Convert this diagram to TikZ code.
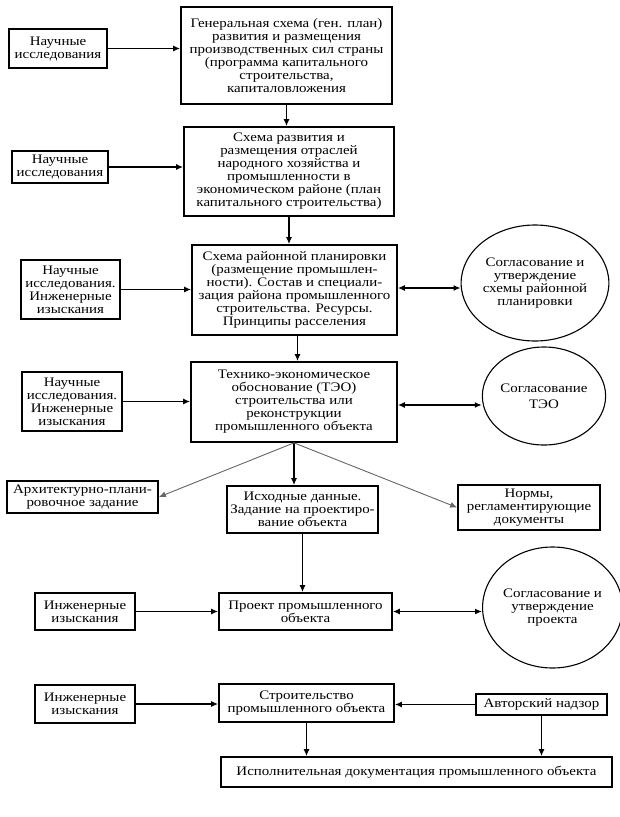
\documentclass[tikz,border=0pt]{standalone}
\usepackage{fontspec}
\setmainfont{Liberation Serif}[FakeStretch=1.15]
\usetikzlibrary{arrows.meta,shapes.geometric}
\tikzset{
  box/.style={draw, line width=1.7pt, rectangle, inner sep=0pt, align=center,
    font=\fontsize{13}{13}\selectfont},
  oval/.style={draw, line width=1.1pt, ellipse, inner sep=0pt, align=center,
    font=\fontsize{13}{13}\selectfont},
  arr/.style={line width=1.6pt, -{Latex[length=7pt,width=6pt]}},
  darr/.style={line width=1.6pt, {Latex[length=7pt,width=6pt]}-{Latex[length=7pt,width=6pt]}},
  garr/.style={line width=0.9pt, draw=black!60, -{Latex[length=7pt,width=6pt]}}
}
\begin{document}
\begin{tikzpicture}[x=1pt,y=-1pt]
\path[use as bounding box, fill=white] (0,0) rectangle (619,817);

\node[box, minimum width=98pt, minimum height=39pt] (lb1) at (58,48.5) {Научные\\исследования};
\node[box, minimum width=211pt, minimum height=97pt] (b1) at (286.5,55.5)
  {Генеральная схема (ген. план)\\развития и размещения\\производственных сил страны\\(программа капитального\\строительства,\\капиталовложения};

\node[box, minimum width=96pt, minimum height=32pt] (lb2) at (60,167) {Научные\\исследования};
\node[box, minimum width=210pt, minimum height=89pt] (b2) at (289,171.5)
  {Схема развития и\\размещения отраслей\\народного хозяйства и\\промышленности в\\экономическом районе (план\\капитального строительства)};

\node[box, minimum width=99pt, minimum height=59pt] (lb3) at (70.5,289.5) {Научные\\исследования.\\Инженерные\\изыскания};
\node[box, minimum width=205pt, minimum height=90pt] (b3) at (294.5,290)
  {Схема районной планировки\\(размещение промышлен-\\ности). Состав и специали-\\зация района промышленного\\строительства. Ресурсы.\\Принципы расселения};
\node[oval, minimum width=124pt, minimum height=116pt] (c1) at (535,283)
  {Согласование и\\утверждение\\схемы районной\\планировки};

\node[box, minimum width=100pt, minimum height=59pt] (lb4) at (72,401.5) {Научные\\исследования.\\Инженерные\\изыскания};
\node[box, minimum width=206pt, minimum height=80pt] (b4) at (294,402)
  {Технико-экономическое\\обоснование (ТЭО)\\строительства или\\реконструкции\\промышленного объекта};
\node[oval, minimum width=108pt, minimum height=98pt] (c2) at (544,396)
  {Согласование\\[3pt]ТЭО};

\node[box, minimum width=151pt, minimum height=32pt] (arch) at (82.5,497) {Архитектурно-плани-\\ровочное задание};
\node[box, minimum width=151pt, minimum height=47pt] (ish) at (302.5,509.5) {Исходные данные.\\Задание на проектиро-\\вание объекта};
\node[box, minimum width=142pt, minimum height=45pt] (norm) at (529,507.5) {Нормы,\\регламентирующие\\документы};

\node[box, minimum width=100pt, minimum height=37pt] (lb5) at (85,611.5) {Инженерные\\изыскания};
\node[box, minimum width=173pt, minimum height=37pt] (pr) at (305.5,611.5) {Проект промышленного\\объекта};
\node[oval, minimum width=121pt, minimum height=121pt] (c3) at (552.5,607.5)
  {Согласование и\\утверждение\\проекта};

\node[box, minimum width=100pt, minimum height=38pt] (lb6) at (85,704) {Инженерные\\изыскания};
\node[box, minimum width=175pt, minimum height=38pt] (str) at (306.5,703) {Строительство\\промышленного объекта};
\node[box, minimum width=131pt, minimum height=21pt] (avt) at (541.5,704.5) {Авторский надзор};
\node[box, minimum width=391pt, minimum height=30pt] (isp) at (416.5,772) {Исполнительная документация промышленного объекта};

% connectors
\draw[arr] (lb1.east) -- (lb1.east -| b1.west);
\draw[arr] (lb2.east) -- (lb2.east -| b2.west);
\draw[arr] (lb3.east) -- (lb3.east -| b3.west);
\draw[arr] (lb4.east) -- (lb4.east -| b4.west);
\draw[arr] (lb5.east) -- (lb5.east -| pr.west);
\draw[arr] (lb6.east) -- (lb6.east -| str.west);

\draw[arr] (b1.south) -- (b1.south |- b2.north);
\draw[arr] (b2.south) -- (b2.south |- b3.north);
\draw[arr] ([xshift=3pt]b3.south) -- ([xshift=3pt]b3.south |- b4.north);
\draw[arr] (b4.south) -- (b4.south |- ish.north);
\draw[garr] (b4.south) -- (arch.east);
\draw[garr] (b4.south) -- (norm.west);
\draw[arr] (ish.south) -- (ish.south |- pr.north);
\draw[arr] (str.south) -- (str.south |- isp.north);
\draw[arr] (avt.south) -- (avt.south |- isp.north);
\draw[arr] (avt.west) -- (avt.west -| str.east);

\draw[darr] ([yshift=2pt]b3.east) -- ([yshift=2pt]b3.east -| c1.west);
\draw[darr] ([yshift=-3pt]b4.east) -- ([yshift=-3pt]b4.east -| c2.west);
\draw[darr] (pr.east) -- (pr.east -| c3.west);
\end{tikzpicture}
\end{document}
